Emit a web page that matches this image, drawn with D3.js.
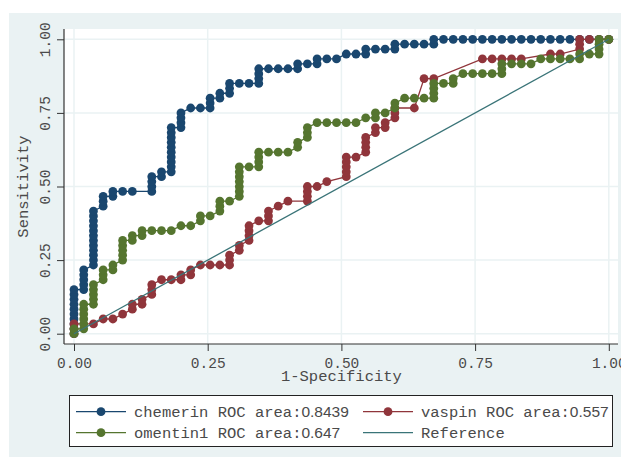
<!DOCTYPE html>
<html>
<head>
<meta charset="utf-8">
<script src="https://cdn.jsdelivr.net/npm/d3@7"></script>
<style>
  body { margin: 0; background: #fff; }
  text { font-family: "Liberation Mono", "DejaVu Sans Mono", monospace; fill: #4a4a4a; }
  .num { font-family: "Liberation Sans", Arial, sans-serif; }
</style>
</head>
<body>
<div id="chart"></div>
<script>
// counts of negatives / positives in the sample
var N_NEG = 55, N_POS = 60;

var seriesNames = ["chemerin", "vaspin", "omentin1"];
var aucLabels = ["0.8439", "0.557", "0.647"];
var xTicks = [0, 0.25, 0.5, 0.75, 1];
var yTicks = [0, 0.25, 0.5, 0.75, 1];

// ROC points as [false positives, true positives]
var chemerinPts = [
  [0,0],[0,1],[0,2],[0,3],[0,4],[0,5],[0,6],[0,7],[0,8],[0,9],
  [1,9],[1,10],[1,11],[1,12],[1,13],
  [2,14],[2,15],[2,16],[2,17],[2,18],[2,19],[2,20],[2,21],[2,22],[2,23],[2,24],[2,25],
  [3,26],[3,27],[3,28],[4,28],[4,29],[5,29],[6,29],
  [8,29],[8,30],[8,31],[8,32],[9,32],[9,33],
  [10,33],[10,34],[10,35],[10,36],[10,37],[10,38],[10,39],[10,40],[10,41],[10,42],
  [11,42],[11,43],[11,44],[11,45],[12,46],[13,46],
  [14,46],[14,47],[14,48],[15,48],[15,49],[16,49],[16,50],[16,51],[17,51],[18,51],
  [19,51],[19,52],[19,53],[19,54],[20,54],[21,54],[22,54],[23,54],[23,55],[24,55],
  [25,55],[25,56],[26,56],[27,56],[28,57],[29,57],[30,57],[30,58],[31,58],[32,58],
  [33,58],[33,59],[34,59],[35,59],[36,59],[37,59],[37,60],[38,60],[39,60],[40,60],
  [41,60],[42,60],[43,60],[44,60],[45,60],[46,60],[47,60],[48,60],[49,60],[50,60],
  [51,60],[52,60],[53,60],[54,60],[55,60]
];
var vaspinPts = [
  [0,0],[0,1],[0,2],[2,2],[3,3],[4,3],[5,4],[6,5],[6,6],[7,6],[7,7],
  [8,8],[8,9],[8,10],[9,11],[10,11],[11,11],[11,12],[12,12],[12,13],[13,14],[14,14],[15,14],
  [16,14],[16,15],[16,16],[17,17],[17,18],[18,19],[18,20],[18,21],[18,22],[19,23],
  [20,23],[20,24],[20,25],[21,26],[22,27],[24,27],[24,28],[24,29],[24,30],[25,30],[26,31],
  [28,32],[28,33],[28,34],[28,35],[28,36],[29,36],[30,37],[30,38],[30,39],[30,40],
  [31,41],[31,42],[32,42],[32,43],[33,44],[33,45],[33,46],[35,46],[36,52],[37,52],
  [42,56],[43,56],[44,56],[45,56],[46,56],[49,57],[50,57],[52,58],[52,59],[52,60],
  [53,60],[54,60],[55,60]
];
var omentinPts = [
  [0,0],[0,1],[1,1],[1,2],[1,3],[1,4],[1,5],[1,6],[2,6],[2,7],[2,8],[2,9],[2,10],
  [3,11],[3,12],[3,13],[4,13],[4,14],[5,15],[5,16],[5,17],[5,18],[5,19],[6,19],[6,20],
  [7,20],[7,21],[8,21],[9,21],[10,21],[11,22],[12,22],[13,23],[13,24],[14,24],
  [15,25],[15,26],[15,27],[16,27],[17,28],[17,29],[17,30],[17,31],[17,32],[17,33],[17,34],
  [18,34],[19,34],[19,35],[19,36],[19,37],[20,37],[21,37],[22,37],[23,38],[23,39],
  [24,40],[24,41],[24,42],[25,43],[26,43],[27,43],[28,43],[29,43],[30,44],[31,44],[31,45],
  [32,45],[33,46],[33,47],[34,48],[35,48],[36,48],[37,48],[37,49],[37,50],[37,51],
  [38,51],[39,51],[39,52],[40,53],[41,53],[42,53],[43,53],[44,53],[44,54],[44,55],
  [45,55],[46,55],[47,55],[48,56],[49,56],[50,56],[51,56],[52,56],[52,57],[53,57],
  [54,57],[54,58],[54,59],[54,60],[55,60]
];
var referencePts = [[0,0],[1,1]];

var colors = ["#1a476f", "#90353b", "#55752f"];
var refColor = "#3a7478";

var width = 621, height = 460;
var plot = { left: 64, top: 29, right: 618, bottom: 344 };

var x = d3.scaleLinear().domain([0, 1]).range([74, 608.8]);
var y = d3.scaleLinear().domain([0, 1]).range([333.7, 39.3]);

var svg = d3.select("#chart").append("svg")
  .attr("width", width)
  .attr("height", height);

svg.append("rect")
  .attr("x", 9).attr("y", 13)
  .attr("width", width - 9).attr("height", 444)
  .attr("fill", "#eaf2f3");

svg.append("rect")
  .attr("x", plot.left).attr("y", plot.top)
  .attr("width", plot.right - plot.left).attr("height", plot.bottom - plot.top)
  .attr("fill", "#fff");

// grid
svg.append("g").selectAll("line")
  .data(yTicks)
  .enter().append("line")
    .attr("x1", plot.left).attr("x2", plot.right)
    .attr("y1", d => y(d)).attr("y2", d => y(d))
    .attr("stroke", "#eaf2f3").attr("stroke-width", 1.5);
svg.append("g").selectAll("line")
  .data(xTicks)
  .enter().append("line")
    .attr("y1", plot.top).attr("y2", plot.bottom)
    .attr("x1", d => x(d)).attr("x2", d => x(d))
    .attr("stroke", "#eaf2f3").attr("stroke-width", 1.5);

// axes
var xAxis = svg.append("g")
  .attr("transform", "translate(0," + plot.bottom + ")")
  .call(d3.axisBottom(x).tickValues(xTicks).tickSize(7).tickFormat(d3.format(".2f")));
xAxis.select(".domain").remove();
xAxis.selectAll("line").attr("stroke", "#333");
xAxis.selectAll("text")
  .attr("y", 24).attr("dy", 0)
  .style("font-size", "14.5px");

var yAxis = svg.append("g")
  .attr("transform", "translate(" + plot.left + ",0)")
  .call(d3.axisLeft(y).tickValues(yTicks).tickSize(7).tickFormat(d3.format(".2f")));
yAxis.select(".domain").remove();
yAxis.selectAll("line").attr("stroke", "#333");
yAxis.selectAll("text")
  .attr("transform", "rotate(-90)")
  .attr("x", 0).attr("y", -14).attr("dy", 0)
  .attr("text-anchor", "middle")
  .style("font-size", "14.5px");

svg.append("line")
  .attr("x1", plot.left).attr("x2", plot.left)
  .attr("y1", plot.top).attr("y2", plot.bottom)
  .attr("stroke", "#333").attr("stroke-width", 1.2);
svg.append("line")
  .attr("x1", plot.left).attr("x2", plot.right)
  .attr("y1", plot.bottom).attr("y2", plot.bottom)
  .attr("stroke", "#333").attr("stroke-width", 1.2);

svg.append("text")
  .attr("x", (x(0) + x(1)) / 2).attr("y", 381)
  .attr("text-anchor", "middle")
  .style("font-size", "15.5px")
  .text("1-Specificity");

svg.append("text")
  .attr("transform", "translate(28," + ((y(0) + y(1)) / 2) + ") rotate(-90)")
  .attr("text-anchor", "middle")
  .style("font-size", "15.5px")
  .text("Sensitivity");

// curves
var rocLine = d3.line()
  .x(d => x(d[0] / N_NEG))
  .y(d => y(d[1] / N_POS));

[chemerinPts, vaspinPts, omentinPts].forEach(function(pts, i) {
  var g = svg.append("g");
  g.append("path")
    .datum(pts)
    .attr("d", rocLine)
    .attr("fill", "none")
    .attr("stroke", colors[i])
    .attr("stroke-width", 1.3);
  g.selectAll("circle")
    .data(pts)
    .enter().append("circle")
      .attr("cx", d => x(d[0] / N_NEG))
      .attr("cy", d => y(d[1] / N_POS))
      .attr("r", 4.4)
      .attr("fill", colors[i]);
});

svg.append("path")
  .datum(referencePts)
  .attr("d", d3.line().x(d => x(d[0])).y(d => y(d[1])))
  .attr("stroke", refColor)
  .attr("stroke-width", 1.3)
  .attr("fill", "none");

// legend
svg.append("rect")
  .attr("x", 69.5).attr("y", 395.5)
  .attr("width", 543).attr("height", 51)
  .attr("fill", "#fff")
  .attr("stroke", "#222").attr("stroke-width", 1);

var legendItems = [
  { name: seriesNames[0], auc: aucLabels[0], color: colors[0], marker: true },
  { name: seriesNames[1], auc: aucLabels[1], color: colors[1], marker: true },
  { name: seriesNames[2], auc: aucLabels[2], color: colors[2], marker: true },
  { name: "Reference", auc: null, color: refColor, marker: false }
];
var colX = [76, 363], rowY = [411.7, 432.7];

legendItems.forEach(function(item, i) {
  var kx = colX[i % 2], ky = rowY[Math.floor(i / 2)];
  var g = svg.append("g");
  g.append("line")
    .attr("x1", kx).attr("x2", kx + 50)
    .attr("y1", ky).attr("y2", ky)
    .attr("stroke", item.color).attr("stroke-width", 1.3);
  if (item.marker) {
    g.append("circle")
      .attr("cx", kx + 25).attr("cy", ky)
      .attr("r", 4.4).attr("fill", item.color);
  }
  var t = g.append("text")
    .attr("x", kx + 58).attr("y", ky + 5)
    .style("font-size", "15.5px");
  if (item.auc) {
    t.append("tspan").text(item.name + " ROC area:");
    t.append("tspan").attr("class", "num").text(item.auc);
  } else {
    t.text(item.name);
  }
});
</script>
</body>
</html>
